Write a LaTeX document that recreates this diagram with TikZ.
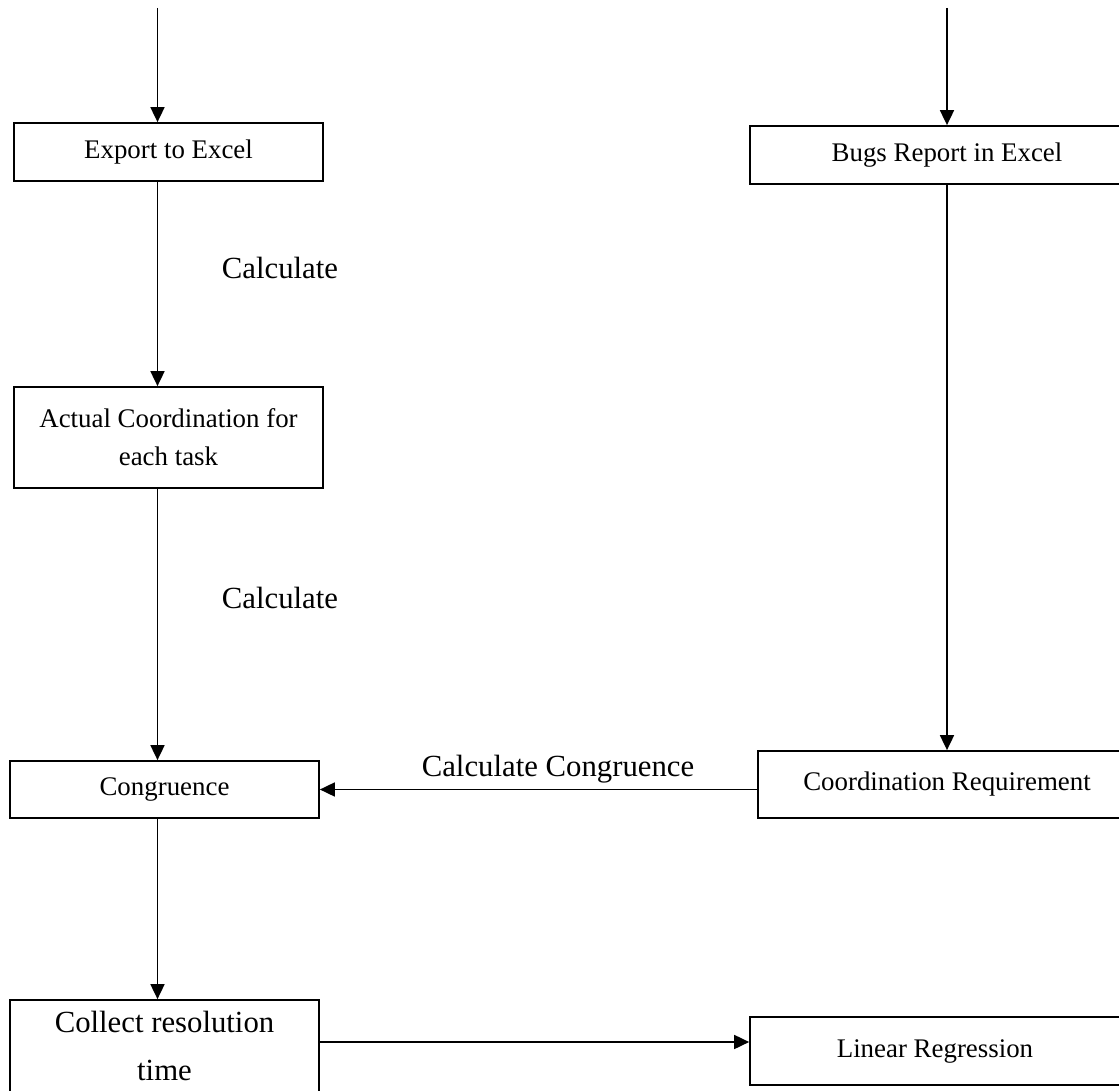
\documentclass[tikz,border=0pt]{standalone}
\usepackage{fontspec}
\setmainfont{Liberation Serif}
\usepackage{tikz}
\usetikzlibrary{arrows.meta,positioning}

\begin{document}
\begin{tikzpicture}[x=0.02cm,y=0.02cm,line width=1pt,
    box/.style={draw,inner sep=0pt,align=center,font=\fontsize{15.3}{21.6}\selectfont},
    bigbox/.style={box,font=\fontsize{17.5}{27}\selectfont},
    lbl/.style={anchor=base,inner sep=0pt,font=\fontsize{17.5}{21}\selectfont},
    flow/.style={-{Triangle[length=0.3cm,width=0.28cm]}}]
  \useasboundingbox (0,0) rectangle (1119,-1091);
  % columns
  \coordinate (lcol) at (157.5,0);
  \coordinate (rcol) at (947,0);
  \coordinate (ltop) at (157.5,-8);
  \coordinate (rtop) at (947,-8);
  \coordinate (rowb) at (0,-1042);
  % left column
  \node[box,minimum width=6.18cm,minimum height=1.16cm] (export) at (168.5,-152) {Export to Excel};
  \node[box,minimum width=6.18cm,minimum height=2.02cm] (actual) at (168.5,-437.5) {Actual Coordination for\\each task};
  \node[box,minimum width=6.18cm,minimum height=1.14cm] (congr) at (164.5,-789.5) {Congruence};
  \node[bigbox,minimum width=6.18cm,minimum height=1.84cm] (collect) at (164.5,-1046) {Collect resolution\\time};
  % right column
  \node[box,minimum width=7.88cm,minimum height=1.16cm] (bugs) at (947,-155) {Bugs Report in Excel};
  \node[box,minimum width=7.56cm,minimum height=1.34cm] (coordreq) at (947,-784.5) {Coordination Requirement};
  \node[box,minimum width=7.4cm,minimum height=1.36cm] (linreg) at (935,-1051) {Linear Regression};
  % labels
  \node[lbl] (calc1) at (280,-278) {Calculate};
  \node[lbl] (calc2) at (280,-608) {Calculate};
  \node[lbl] (calccong) at (558,-776) {Calculate Congruence};
  % connectors
  \draw[flow] (ltop) -- (export.north -| lcol);
  \draw[flow] (export.south -| lcol) -- (actual.north -| lcol);
  \draw[flow] (actual.south -| lcol) -- (congr.north -| lcol);
  \draw[flow] (congr.south -| lcol) -- (collect.north -| lcol);
  \draw[flow] (rtop) -- (bugs.north -| rcol);
  \draw[flow] (bugs.south -| rcol) -- (coordreq.north -| rcol);
  \draw[flow] (coordreq.west |- congr.east) -- (congr.east);
  \draw[flow] (collect.east |- rowb) -- (linreg.west |- rowb);
\end{tikzpicture}
\end{document}
